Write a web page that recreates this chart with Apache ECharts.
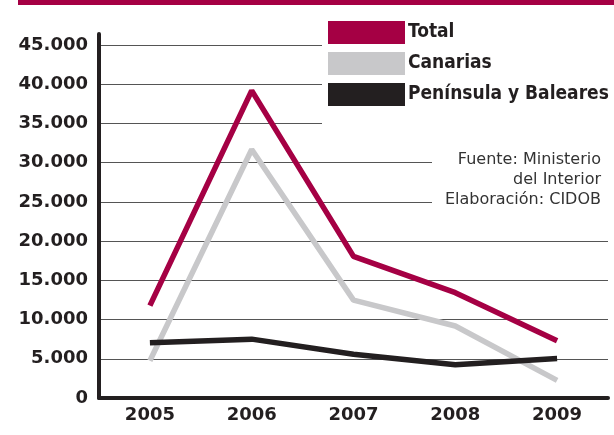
<!DOCTYPE html>
<html>
<head>
<meta charset="utf-8">
<script src="https://cdn.jsdelivr.net/npm/echarts@6/dist/echarts.min.js"></script>
<style>
  html, body { margin: 0; padding: 0; background: #fff; }
  #chart { width: 614px; height: 435px; }
</style>
</head>
<body>
<div id="chart"></div>
<script>
// Llegadas de inmigrantes irregulares por vía marítima, 2005-2009
const years = ['2005', '2006', '2007', '2008', '2009'];
const total = [11781, 39180, 18057, 13424, 7285];
const canarias = [4751, 31678, 12478, 9181, 2246];
const peninsula = [7030, 7502, 5579, 4243, 5039];
const seriesNames = ['Total', 'Canarias', 'Península y Baleares'];
const sourceLines = ['Fuente: Ministerio', 'del Interior', 'Elaboración: CIDOB'];

const MAROON = '#a50044';
const GREY = '#c8c8ca';
const BLACK = '#231f20';

const chart = echarts.init(document.getElementById('chart'), null, { renderer: 'canvas' });

const labelFont = { fontFamily: 'DejaVu Sans', fontWeight: 'bold', fontSize: 18, color: BLACK };

chart.setOption({
  animation: false,
  backgroundColor: '#fff',
  grid: [
    { left: 99, right: 6, top: 45, bottom: 37 },
    { left: 99, right: 6, top: 34, bottom: 37 }
  ],
  legend: {
    data: seriesNames,
    orient: 'vertical',
    left: 322,
    top: 15,
    padding: [6, 40, 25, 6],
    backgroundColor: '#fff',
    itemWidth: 77,
    itemHeight: 23,
    itemGap: 8,
    icon: 'rect',
    selectedMode: false,
    textStyle: {
      fontFamily: 'DejaVu Sans Condensed',
      fontWeight: 'bold',
      fontSize: 19,
      color: BLACK,
      padding: [0, 0, 0, -2]
    }
  },
  xAxis: [
    {
      type: 'category',
      gridIndex: 0,
      data: years,
      boundaryGap: true,
      axisLine: { show: true, lineStyle: { color: BLACK, width: 4 } },
      axisTick: { show: false },
      axisLabel: Object.assign({ margin: 8 }, labelFont)
    },
    {
      type: 'category',
      gridIndex: 1,
      data: years,
      show: false
    }
  ],
  yAxis: [
    {
      type: 'value',
      gridIndex: 0,
      min: 0,
      max: 45000,
      interval: 5000,
      axisLine: { show: false },
      axisTick: { show: false },
      splitLine: { show: true, lineStyle: { color: '#555', width: 1 } },
      axisLabel: Object.assign({
        margin: 11,
        formatter: v => v === 0 ? '0' : v.toLocaleString('de-DE')
      }, labelFont)
    },
    {
      type: 'value',
      gridIndex: 1,
      min: 0,
      max: 45000,
      axisLine: { show: true, lineStyle: { color: BLACK, width: 4 } },
      axisTick: { show: false },
      axisLabel: { show: false },
      splitLine: { show: false }
    }
  ],
  series: [
    {
      name: 'Canarias',
      type: 'line',
      data: canarias,
      symbol: 'none',
      color: GREY,
      lineStyle: { color: GREY, width: 5.5 }
    },
    {
      name: 'Península y Baleares',
      type: 'line',
      data: peninsula,
      symbol: 'none',
      color: BLACK,
      lineStyle: { color: BLACK, width: 5.5 }
    },
    {
      name: 'Total',
      type: 'line',
      data: total,
      symbol: 'none',
      color: MAROON,
      lineStyle: { color: MAROON, width: 5.5 }
    }
  ],
  graphic: [
    {
      // banda superior
      type: 'rect',
      left: 18,
      top: 0,
      shape: { width: 596, height: 5 },
      style: { fill: MAROON }
    },
    {
      // nota de fuente sobre fondo blanco
      type: 'group',
      z: 50,
      children: [
        {
          type: 'rect',
          z: 50,
          shape: { x: 432, y: 146, width: 182, height: 66 },
          style: { fill: '#fff' }
        },
        {
          type: 'text',
          z: 51,
          style: {
            x: 601,
            y: 150,
            text: sourceLines.join('\n'),
            align: 'right',
            verticalAlign: 'top',
            fontFamily: 'DejaVu Sans',
            fontSize: 16,
            lineHeight: 20,
            fill: '#333'
          }
        }
      ]
    }
  ]
});
</script>
</body>
</html>
